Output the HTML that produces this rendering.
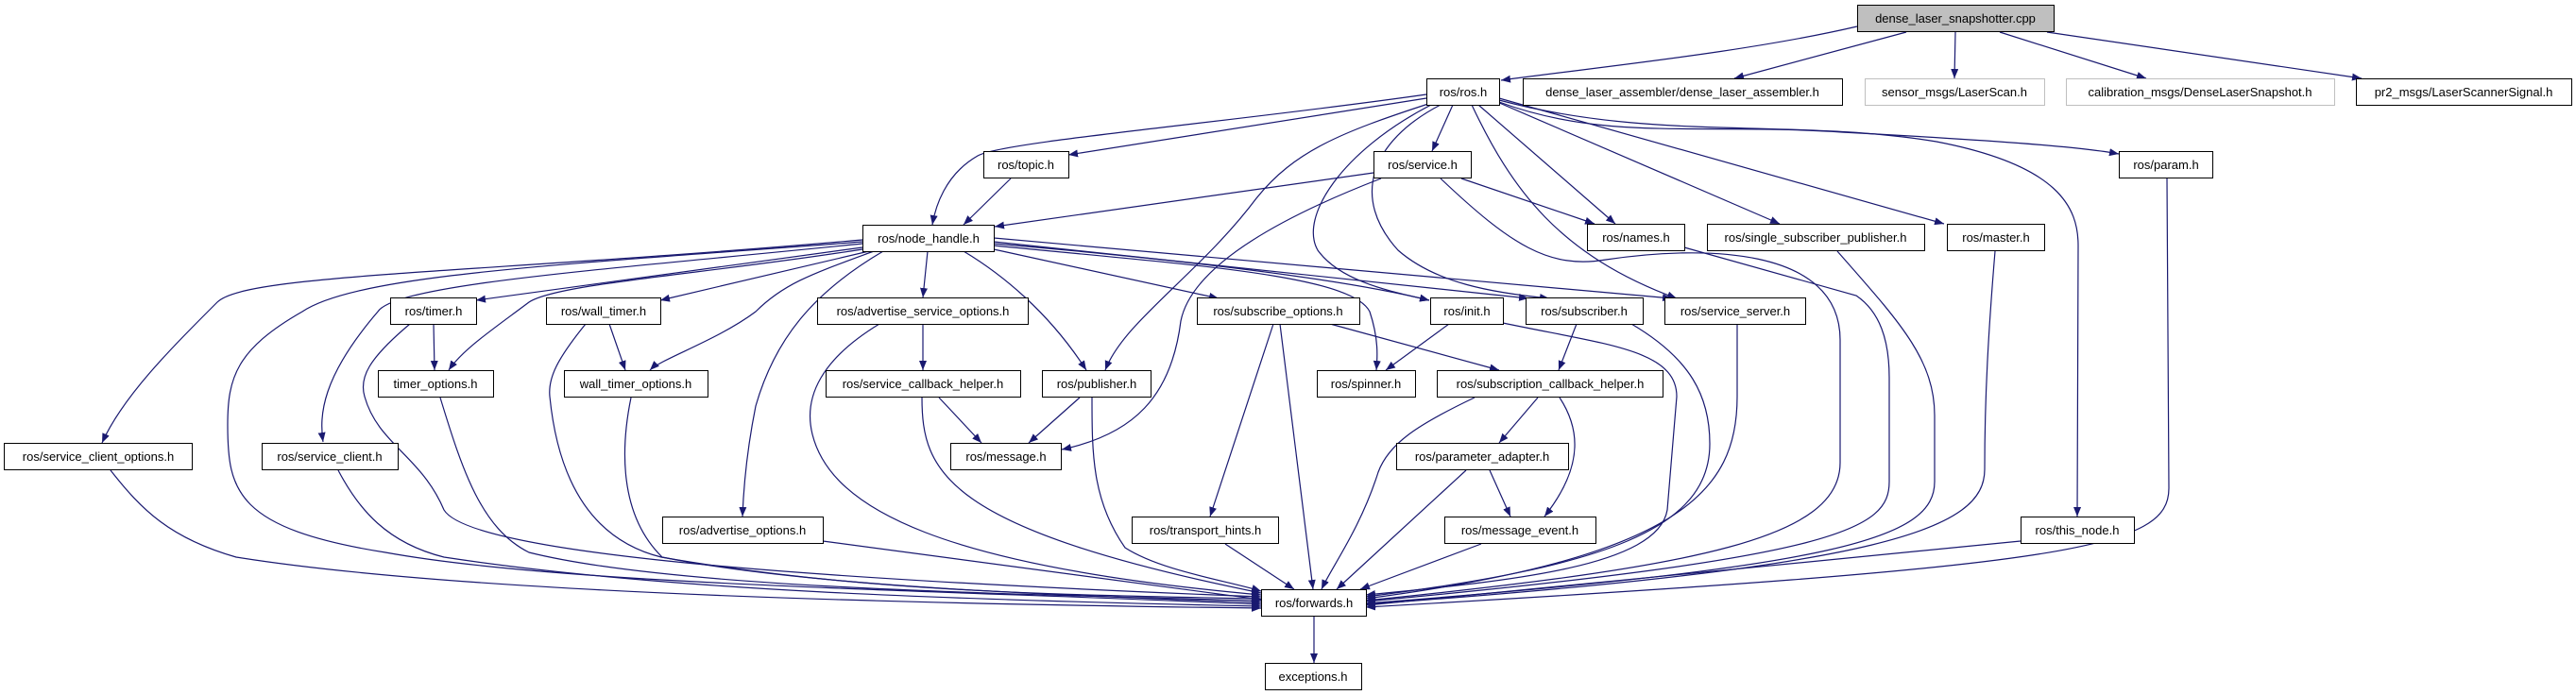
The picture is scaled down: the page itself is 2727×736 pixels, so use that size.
<!DOCTYPE html>
<html><head><meta charset="utf-8"><style>
html,body{margin:0;padding:0;background:#fff;}
svg{display:block;}
text{font-family:"Liberation Sans",sans-serif;font-size:13px;fill:#000;}
</style></head><body>
<svg width="2727" height="736" viewBox="0 0 2727 736" xmlns="http://www.w3.org/2000/svg">
<defs>
<marker id="a" markerUnits="userSpaceOnUse" markerWidth="11" markerHeight="9" refX="10" refY="4" orient="auto">
<path d="M0,0 L10,4 L0,8 z" fill="#191970"/>
</marker>
</defs>
<g fill="none" stroke="#191970" stroke-width="1.2" marker-end="url(#a)">
<!-- cpp -->
<path d="M1966,28 C1850,55 1700,70 1589,85"/>
<path d="M2018,34 L1836,83"/>
<path d="M2070,34 L2069,83"/>
<path d="M2117,34 L2272,83"/>
<path d="M2167,34 L2500,83"/>
<!-- ros.h -->
<path d="M1510,100 C1300,130 1060,150 1035,165 C1000,185 990,220 987,238"/>
<path d="M1510,104 L1131,164"/>
<path d="M1512,110 C1420,140 1370,160 1330,210 C1270,290 1190,340 1170,392"/>
<path d="M1515,111 C1420,160 1375,230 1395,265 C1420,300 1480,310 1513,318"/>
<path d="M1538,111 L1516,160"/>
<path d="M1525,111 C1450,150 1430,210 1480,265 C1520,300 1580,310 1640,316"/>
<path d="M1565,111 L1710,237"/>
<path d="M1558,111 C1600,200 1650,270 1775,316"/>
<path d="M1585,108 L1884,237"/>
<path d="M1587,104 L2058,237"/>
<path d="M1587,108 C1700,150 1800,130 1950,140 C2100,148 2200,155 2243,163"/>
<path d="M1587,106 C1750,150 1900,125 2050,150 C2180,175 2200,220 2200,260 L2199,547"/>
<!-- topic / service -->
<path d="M1070,189 L1020,238"/>
<path d="M1454,183 L1053,240"/>
<path d="M1547,189 L1688,237"/>
<path d="M1462,189 C1330,240 1260,290 1250,340 C1240,420 1200,460 1124,476"/>
<!-- node_handle -->
<path d="M913,254 C500,290 260,290 230,320 C180,370 130,420 108,469"/>
<path d="M913,258 C650,285 420,300 400,330 C340,400 338,440 342,468"/>
<path d="M913,262 L504,318"/>
<path d="M913,264 C750,290 590,300 560,320 C520,350 490,370 475,392"/>
<path d="M920,266 L699,318"/>
<path d="M925,266 C860,290 830,300 800,330 C760,360 700,380 688,392"/>
<path d="M935,266 C860,310 820,360 800,430 C790,480 787,520 786,547"/>
<path d="M982,266 L977,315"/>
<path d="M1020,266 C1060,290 1110,330 1150,392"/>
<path d="M1052,264 L1290,316"/>
<path d="M1052,260 C1250,280 1430,290 1450,330 C1460,360 1458,380 1457,392"/>
<path d="M1052,258 C1250,275 1420,295 1513,318"/>
<path d="M1052,256 L1618,316"/>
<path d="M1052,252 L1770,316"/>
<path d="M913,256 C600,280 380,290 320,330 C250,370 241,400 241,450 C241,520 250,560 408,585 C600,620 1000,625 1335,640"/>
<!-- row4/5 -->
<path d="M459,343 L460,392"/>
<path d="M645,343 L662,392"/>
<path d="M977,343 L977,392"/>
<path d="M994,421 L1039,469"/>
<path d="M1143,421 L1089,469"/>
<path d="M1348,343 L1281,547"/>
<path d="M1355,343 L1390,624"/>
<path d="M1408,343 L1587,392"/>
<path d="M1534,343 L1467,392"/>
<path d="M1669,343 L1650,392"/>
<path d="M1628,421 L1587,469"/>
<path d="M1651,421 C1670,450 1680,490 1635,547"/>
<path d="M1577,498 L1599,547"/>
<!-- to forwards -->
<path d="M434,343 C390,380 380,400 386,420 C400,470 446,483 470,540 C500,590 900,615 1335,632"/>
<path d="M620,343 C590,380 580,400 582,420 C590,500 620,570 700,590 C900,625 1100,630 1335,634"/>
<path d="M466,421 C490,500 510,560 560,585 C700,620 1000,628 1335,636"/>
<path d="M668,421 C660,460 650,540 701,590 C850,620 1100,630 1335,638"/>
<path d="M117,498 C150,540 180,570 250,590 C500,630 1000,640 1335,644"/>
<path d="M358,498 C380,540 410,575 470,590 C700,625 1000,635 1335,642"/>
<path d="M871,573 L1335,635"/>
<path d="M931,343 C870,380 850,420 860,460 C880,540 1000,600 1335,630"/>
<path d="M976,421 C976,500 1000,560 1335,628"/>
<path d="M1156,421 C1156,480 1156,530 1191,580 C1230,605 1300,615 1335,626"/>
<path d="M1561,421 C1500,450 1470,470 1459,500 C1440,560 1410,600 1399,624"/>
<path d="M1552,498 L1415,624"/>
<path d="M1568,576 L1440,624"/>
<path d="M1297,576 L1370,624"/>
<path d="M1525,189 C1600,260 1640,285 1700,275 C1800,260 1948,260 1948,360 L1948,490 C1948,570 1800,600 1446,636"/>
<path d="M1591,342 C1700,365 1775,370 1775,420 L1765,540 C1755,600 1600,615 1446,630"/>
<path d="M1727,343 C1790,380 1810,420 1810,470 C1810,560 1700,600 1446,632"/>
<path d="M1839,343 L1839,420 C1839,520 1780,590 1446,634"/>
<path d="M1783,262 L1965,313 C1990,330 2000,360 2000,400 L2000,510 C2000,560 1950,590 1446,637"/>
<path d="M1945,266 C2010,340 2048,380 2048,440 L2048,510 C2048,570 1950,600 1446,639"/>
<path d="M2112,266 C2105,350 2101,420 2101,497 C2101,560 2000,600 1446,640"/>
<path d="M2139,573 L1446,641"/>
<path d="M2294,189 L2296,517 C2296,580 2200,600 1446,643"/>
<path d="M1391,652 L1391,702"/>
</g>
<g stroke="#000" stroke-width="1" fill="#fff">
<rect x="1966.5" y="5.5" width="208" height="28" fill="#bfbfbf"/>
<rect x="1510.5" y="83.5" width="77" height="28"/>
<rect x="1612.5" y="83.5" width="338" height="28"/>
<rect x="1974.5" y="83.5" width="190" height="28" stroke="#bfbfbf"/>
<rect x="2187.5" y="83.5" width="284" height="28" stroke="#bfbfbf"/>
<rect x="2494.5" y="83.5" width="228" height="28"/>
<rect x="1041.5" y="160.5" width="90" height="28"/>
<rect x="1454.5" y="160.5" width="103" height="28"/>
<rect x="2243.5" y="160.5" width="99" height="28"/>
<rect x="913.5" y="238.5" width="139" height="28"/>
<rect x="1680.5" y="237.5" width="103" height="28"/>
<rect x="1807.5" y="237.5" width="230" height="28"/>
<rect x="2061.5" y="237.5" width="103" height="28"/>
<rect x="413.5" y="315.5" width="91" height="28"/>
<rect x="578.5" y="315.5" width="121" height="28"/>
<rect x="865.5" y="315.5" width="223" height="28"/>
<rect x="1267.5" y="315.5" width="172" height="28"/>
<rect x="1514.5" y="315.5" width="77" height="28"/>
<rect x="1615.5" y="315.5" width="124" height="28"/>
<rect x="1762.5" y="315.5" width="149" height="28"/>
<rect x="400.5" y="392.5" width="122" height="28"/>
<rect x="597.5" y="392.5" width="152" height="28"/>
<rect x="874.5" y="392.5" width="206" height="28"/>
<rect x="1103.5" y="392.5" width="115" height="28"/>
<rect x="1394.5" y="392.5" width="104" height="28"/>
<rect x="1521.5" y="392.5" width="239" height="28"/>
<rect x="4.5" y="469.5" width="199" height="28"/>
<rect x="277.5" y="469.5" width="144" height="28"/>
<rect x="1006.5" y="469.5" width="117" height="28"/>
<rect x="1478.5" y="469.5" width="182" height="28"/>
<rect x="701.5" y="547.5" width="170" height="28"/>
<rect x="1198.5" y="547.5" width="155" height="28"/>
<rect x="1529.5" y="547.5" width="160" height="28"/>
<rect x="2139.5" y="547.5" width="120" height="28"/>
<rect x="1335.5" y="624.5" width="111" height="28"/>
<rect x="1339.5" y="702.5" width="102" height="28"/>
</g>
<g text-anchor="middle">
<text x="2070" y="24">dense_laser_snapshotter.cpp</text>
<text x="1549" y="102">ros/ros.h</text>
<text x="1781" y="102">dense_laser_assembler/dense_laser_assembler.h</text>
<text x="2069" y="102">sensor_msgs/LaserScan.h</text>
<text x="2329" y="102">calibration_msgs/DenseLaserSnapshot.h</text>
<text x="2608" y="102">pr2_msgs/LaserScannerSignal.h</text>
<text x="1086" y="179">ros/topic.h</text>
<text x="1506" y="179">ros/service.h</text>
<text x="2293" y="179">ros/param.h</text>
<text x="983" y="257">ros/node_handle.h</text>
<text x="1732" y="256">ros/names.h</text>
<text x="1922" y="256">ros/single_subscriber_publisher.h</text>
<text x="2113" y="256">ros/master.h</text>
<text x="459" y="334">ros/timer.h</text>
<text x="639" y="334">ros/wall_timer.h</text>
<text x="977" y="334">ros/advertise_service_options.h</text>
<text x="1353" y="334">ros/subscribe_options.h</text>
<text x="1553" y="334">ros/init.h</text>
<text x="1677" y="334">ros/subscriber.h</text>
<text x="1837" y="334">ros/service_server.h</text>
<text x="461" y="411">timer_options.h</text>
<text x="673" y="411">wall_timer_options.h</text>
<text x="977" y="411">ros/service_callback_helper.h</text>
<text x="1161" y="411">ros/publisher.h</text>
<text x="1446" y="411">ros/spinner.h</text>
<text x="1641" y="411">ros/subscription_callback_helper.h</text>
<text x="104" y="488">ros/service_client_options.h</text>
<text x="349" y="488">ros/service_client.h</text>
<text x="1065" y="488">ros/message.h</text>
<text x="1569" y="488">ros/parameter_adapter.h</text>
<text x="786" y="566">ros/advertise_options.h</text>
<text x="1276" y="566">ros/transport_hints.h</text>
<text x="1609" y="566">ros/message_event.h</text>
<text x="2199" y="566">ros/this_node.h</text>
<text x="1391" y="643">ros/forwards.h</text>
<text x="1390" y="721">exceptions.h</text>
</g>
</svg>
</body></html>
